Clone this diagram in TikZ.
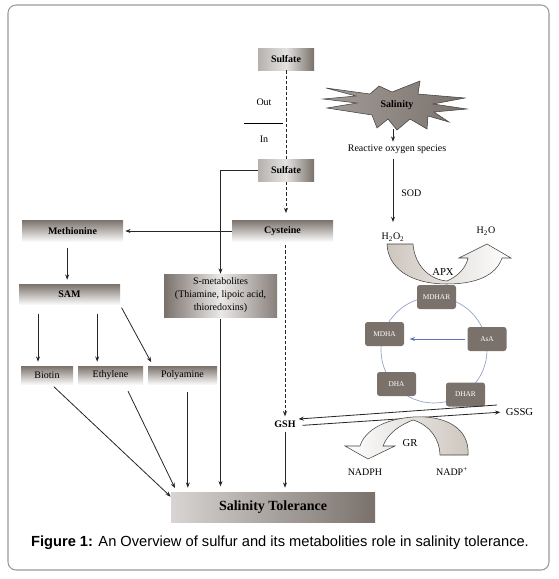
\documentclass[tikz,border=0pt]{standalone}
\usepackage{fontspec}
\setmainfont{Liberation Serif}
\newfontfamily\capfont{Liberation Sans}
\usepackage{tikz}
\usetikzlibrary{arrows.meta,positioning,calc}
\definecolor{sgray}{HTML}{7A716B}
\definecolor{lgray}{HTML}{CDC6BE}
\definecolor{cycblue}{HTML}{8E9FCB}
\definecolor{arrblue}{HTML}{5A76B8}

\begin{document}
\begin{tikzpicture}[
  x=0.75pt, y=-0.75pt,
  >={Stealth[length=4pt,width=3pt]}, font=\fontsize{7.5}{9.75}\selectfont,
  flow/.style={->, draw=black!85, line width=0.6pt},
  dsh/.style={draw=black!85, line width=0.6pt, dash pattern=on 2.5pt off 1.5pt},
  box/.style={rectangle, inner sep=0pt, minimum height=16.5pt, align=center},
  bbox/.style={box, font=\bfseries\fontsize{7.5}{9}\selectfont},
  vbox/.style={top color=sgray, bottom color=white},
  hbox/.style={left color=sgray!55, right color=sgray, middle color=white!80!sgray},
  enz/.style={rectangle, rounded corners=2pt, fill=sgray, text=white, minimum width=29.25pt,
    minimum height=18pt, inner sep=0pt, font=\fontsize{5.5}{6}\selectfont},
  lab/.style={inner sep=2pt, font=\fontsize{7.5}{9}\selectfont},
  band/.style={draw=black!75, line width=0.4pt}
]
\useasboundingbox (0,0) rectangle (558,579);
\draw[black!40, line width=0.8pt, rounded corners=6pt] (8,5) rectangle (549,570);

% sulfur side
\node[bbox, hbox, minimum width=42pt] (sulfO) at (286,59) {Sulfate};
\node[bbox, hbox, minimum width=42pt] (sulfI) at (286,170.5) {Sulfate};
\node[lab] (out) at (264,102) {Out};
\node[lab] (in) at (264,139) {In};
\coordinate (mL) at (244,123);
\coordinate (mR) at (283,123);
\node[bbox, vbox, minimum width=75.75pt] (cys) at (282.5,231) {Cysteine};
\node[bbox, vbox, minimum width=75.75pt] (meth) at (72.5,231) {Methionine};
\node[bbox, vbox, minimum width=75.75pt, minimum height=15.75pt] (sam) at (69.5,294.5) {SAM};
\node[box, left color=sgray, right color=sgray!90, middle color=white!85!sgray,
  minimum width=84.75pt, minimum height=32.25pt] (smet) at (220.5,295.5)
  {S-metabolites\\(Thiamine, lipoic acid,\\thioredoxins)};
\node[box, vbox, minimum width=39pt, minimum height=14.25pt] (bio) at (47,375.5) {Biotin};
\node[box, vbox, minimum width=48.75pt, minimum height=14.25pt] (eth) at (110.5,375.5) {Ethylene};
\node[box, vbox, minimum width=51.75pt, minimum height=14.25pt] (poly) at (182.5,375.5) {Polyamine};
\node[lab, font=\bfseries\fontsize{7.5}{9}\selectfont] (gsh) at (285,424) {GSH};
\node[box, left color=sgray!30, right color=sgray, minimum width=153pt, minimum height=22.5pt,
  font=\bfseries\fontsize{10.5}{12}\selectfont] (tol) at (273,507) {Salinity Tolerance};

\draw[line width=0.6pt] (mL) -- (mR);
\draw[dsh] (sulfO.south) -- (sulfI.north);
\draw[dsh, ->, shorten >=5pt] (sulfI.south) -- (sulfI.south |- cys.north);
\draw[dsh, ->, shorten <=2pt, shorten >=1pt] (gsh.north |- cys.south) -- (gsh.north);
\draw[flow] (sulfI.west) -| (smet.north);
\draw[flow, shorten >=1.5pt] (cys.west) -- (meth.east);
\draw[flow, shorten <=4pt, shorten >=3pt] ([xshift=-4pt]meth.south) -- ([xshift=-4pt]meth.south |- sam.north);
\draw[flow, shorten <=6.5pt, shorten >=3pt] ([xshift=-6.75pt]bio.north |- sam.south) -- ([xshift=-6.75pt]bio.north);
\draw[flow, shorten <=6.5pt, shorten >=3pt] ([xshift=-10pt]eth.north |- sam.south) -- ([xshift=-10pt]eth.north);
\draw[flow, shorten <=2pt, shorten >=3pt] (sam.south east) -- ([xshift=4pt]poly.north west);
\draw[flow, shorten <=1.5pt] ([xshift=4pt]bio.south) -- ([yshift=-3.75pt]tol.north west);
\draw[flow, shorten <=5pt, shorten >=3pt] ([xshift=11pt]eth.south) -- ([xshift=4.5pt]tol.north west);
\draw[flow, shorten <=5pt, shorten >=3pt] ([xshift=4pt]poly.south) -- ([xshift=4pt]poly.south |- tol.north);
\draw[flow, shorten <=1.5pt, shorten >=4pt] (smet.south) -- (smet.south |- tol.north);
\draw[flow, shorten <=1pt, shorten >=3pt] (gsh.south) -- (gsh.south |- tol.north);

% salinity and ascorbate-glutathione cycle
\path[band, left color=sgray!70, middle color=white!85!sgray, right color=sgray]
  (326,88) -- (370,94) -- (379,86) -- (392,92) -- (420,81) -- (418,94) -- (465,98)
  -- (433,104) -- (467,109) -- (434,112) -- (449,122) -- (428,116) -- (427,129)
  -- (410,119) -- (397,130) -- (388,119) -- (377,128) -- (372,115) -- (327,108)
  -- (357,103) -- (323,99) -- (356,96) -- cycle;
\node[inner sep=0pt, minimum height=35.25pt, font=\bfseries\fontsize{7.5}{9}\selectfont] (sal) at (397,105) {Salinity};
\node[lab] (ros) at (397,149) {Reactive oxygen species};
\node[lab] (h2o2) at (393,237) {H\textsubscript{2}O\textsubscript{2}};
\node[lab] (h2o) at (486,231) {H\textsubscript{2}O};
\draw[flow] (sal.south -| h2o2.north) -- (ros.north -| h2o2.north);
\draw[flow, shorten <=2pt, shorten >=6pt] (h2o2.north |- ros.south) -- node[right=4pt, lab]{SOD} (h2o2.north);

\path[band, left color=lgray, middle color=sgray, right color=white]
  (387,244) -- (413,244) .. controls (415,268) and (432,280) .. (447,281)
  .. controls (458,276) and (466,268) .. (468,258) -- (459,258) -- (487,244)
  -- (511,258) -- (502,258) .. controls (496,276) and (475,284) .. (447,284)
  .. controls (410,284) and (388,268) .. (387,244) -- cycle;
\node[lab, font=\fontsize{8}{9}\selectfont] (apx) at (443,272) {APX};

\coordinate (cc) at (434,350);
\draw[cycblue, line width=0.5pt] (cc) circle[radius=39.75pt];
\node[enz] (mdhar) at (436.5,297) {MDHAR};
\node[enz] (asa) at (487,339) {AsA};
\node[enz] (mdha) at (384.5,334) {MDHA};
\node[enz] (dha) at (396.5,384) {DHA};
\node[enz] (dhar) at (465.5,394.5) {DHAR};
\draw[->, arrblue, line width=0.6pt, shorten <=2pt, shorten >=4pt] (asa.west) -- (asa.west -| mdha.east);

\node[lab, font=\fontsize{8}{9}\selectfont, anchor=west] (gssg) at (503,412) {GSSG};
\coordinate (gA) at (497,405);
\draw[flow] (gA) -- ([yshift=3.75pt]gsh.east);
\draw[flow, shorten >=2pt] ([xshift=3pt,yshift=-1pt]gsh.east) -- (gssg.west);

\path[band, left color=white, middle color=sgray, right color=lgray]
  (440,455) -- (468,455) .. controls (470,428) and (445,415) .. (413,417)
  .. controls (385,419) and (365,430) .. (360,446) -- (345,446) -- (368,459)
  -- (395,446) -- (383,446) .. controls (388,433) and (400,425) .. (413,420)
  .. controls (430,425) and (440,440) .. (440,455) -- cycle;
\node[lab, font=\fontsize{8}{9}\selectfont] (gr) at (410,443) {GR};
\node[lab] (nadph) at (365,472) {NADPH};
\node[lab] (nadp) at (452,472) {NADP\textsuperscript{+}};

\node[font=\capfont\fontsize{11}{13}\selectfont] (cap) at (280,543)
  {\textbf{Figure 1:} An Overview of sulfur and its metabolities role in salinity tolerance.};
\end{tikzpicture}
\end{document}
